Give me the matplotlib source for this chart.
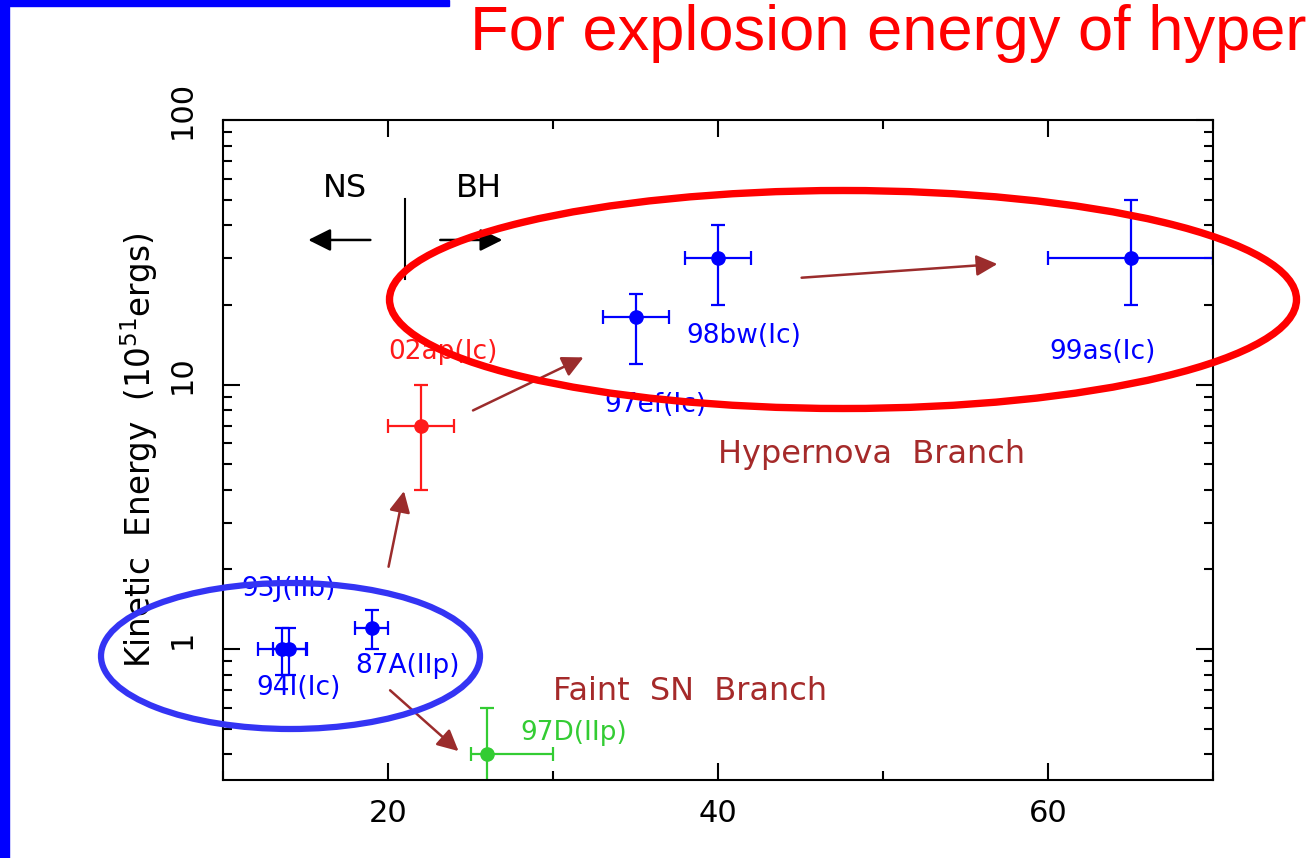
import matplotlib
matplotlib.use("Agg")
import matplotlib.pyplot as plt
import matplotlib.transforms as mtransforms
from matplotlib.patches import Ellipse, Rectangle
from matplotlib.ticker import FixedLocator, MultipleLocator, LogLocator, NullFormatter

# supernova sample: progenitor mass (Msun) vs kinetic energy (1e51 erg)
names = ['93J(IIb)', '94I(Ic)', '87A(IIp)', '97D(IIp)', '02ap(Ic)', '97ef(Ic)', '98bw(Ic)', '99as(Ic)']
mass = [13.6, 14.0, 19.0, 26.0, 22.0, 35.0, 40.0, 65.0]
mass_lo = [1.5, 1.0, 1.0, 1.0, 2.0, 2.0, 2.0, 5.0]
mass_hi = [1.5, 1.0, 1.0, 4.0, 2.0, 2.0, 2.0, 5.0]
energy = [1.0, 1.0, 1.2, 0.4, 7.0, 18.0, 30.0, 30.0]
energy_lo = [0.2, 0.2, 0.2, 0.2, 3.0, 6.0, 10.0, 10.0]
energy_hi = [0.2, 0.2, 0.2, 0.2, 3.0, 4.0, 10.0, 20.0]
colors = ['#0000ff', '#0000ff', '#0000ff', '#33cc33', '#ff1a1a', '#0000ff', '#0000ff', '#0000ff']

# where each name is written (left edge, vertical centre)
label_x = [11.1, 12.0, 18.0, 28.0, 20.0, 33.1, 38.1, 60.1]
label_y = [1.68, 0.71, 0.86, 0.48, 13.3, 8.4, 15.2, 13.3]

# evolutionary arrows between the branches
arrow_from = [(20.0, 2.0), (25.0, 7.9), (44.9, 25.3), (20.0, 0.71)]
arrow_to = [(21.0, 4.05), (32.0, 12.8), (57.1, 28.6), (24.4, 0.405)]

brown = '#a52a2a'

fig = plt.figure(figsize=(13.1, 8.58), dpi=100)
ax = fig.add_axes([223 / 1310, 1 - 780 / 858, 990 / 1310, 660 / 858])

for i in range(len(names)):
    ax.errorbar(mass[i], energy[i],
                xerr=[[mass_lo[i]], [mass_hi[i]]],
                yerr=[[energy_lo[i]], [energy_hi[i]]],
                fmt='o', color=colors[i], ms=9.5, elinewidth=1.6, capsize=5, capthick=1.6)
    ax.text(label_x[i], label_y[i], names[i], color=colors[i], fontsize=19,
            ha='left', va='center')

for p0, p1 in zip(arrow_from, arrow_to):
    ax.annotate('', xy=p1, xytext=p0,
                arrowprops=dict(arrowstyle='-|>', color='#9b2c2c', lw=1.8, mutation_scale=32))

# NS / BH boundary
ax.plot([21, 21], [25.1, 50.4], color='black', lw=1.5)
ax.annotate('', xy=(15.0, 35.2), xytext=(19.1, 35.2),
            arrowprops=dict(arrowstyle='-|>', color='black', lw=1.8, mutation_scale=34))
ax.annotate('', xy=(27.1, 35.2), xytext=(23.0, 35.2),
            arrowprops=dict(arrowstyle='-|>', color='black', lw=1.8, mutation_scale=34))
ax.text(17.4, 55, 'NS', fontsize=23, ha='center', va='center')
ax.text(25.5, 55, 'BH', fontsize=23, ha='center', va='center')

ax.text(40.0, 5.44, 'Hypernova  Branch', color=brown, fontsize=23, ha='left', va='center')
ax.text(30.0, 0.694, 'Faint  SN  Branch', color=brown, fontsize=23, ha='left', va='center')

ax.set_yscale('log')
ax.set_xlim(10, 70)
ax.set_ylim(0.32, 100)

ax.xaxis.set_major_locator(FixedLocator([20, 40, 60]))
ax.xaxis.set_minor_locator(MultipleLocator(10))
ax.yaxis.set_major_locator(FixedLocator([1, 10, 100]))
ax.yaxis.set_major_formatter(plt.FixedFormatter(['1', '10', '100']))
ax.yaxis.set_minor_locator(LogLocator(base=10, subs=range(2, 10)))
ax.yaxis.set_minor_formatter(NullFormatter())

ax.tick_params(which='both', direction='in', top=True, right=True, width=1.5, colors='black')
ax.tick_params(which='major', length=12, labelsize=22)
ax.tick_params(which='minor', length=6.5)
ax.tick_params(axis='x', pad=14)
ax.tick_params(axis='y', pad=19, labelrotation=90)
# nudge the vertical y labels a little upward
shift = mtransforms.ScaledTranslation(0, 10 / 100, fig.dpi_scale_trans)
for lab in ax.get_yticklabels():
    lab.set_va('center')
    lab.set_transform(lab.get_transform() + shift)
for s in ax.spines.values():
    s.set_linewidth(1.5)

ax.set_ylabel('Kinetic  Energy  (10$^{51}$ergs)', fontsize=23.5)
ax.yaxis.set_label_coords(-0.064, 0.5)

# highlight ellipses, drawn in figure inches
fig.add_artist(Ellipse((8.43, 5.585), 9.07, 2.18, fill=False, edgecolor='#ff0000',
                       lw=5.3, transform=fig.dpi_scale_trans, zorder=5))
fig.add_artist(Ellipse((2.905, 2.02), 3.79, 1.46, fill=False, edgecolor='#3434f4',
                       lw=4.5, transform=fig.dpi_scale_trans, zorder=5))

# slide frame
fig.add_artist(Rectangle((0, 0), 9 / 1310, 1, color='#0000ff', transform=fig.transFigure, zorder=6))
fig.add_artist(Rectangle((0, 1 - 6 / 858), 449 / 1310, 6 / 858, color='#0000ff',
                         transform=fig.transFigure, zorder=6))

fig.text(470 / 1310, 1 - 50 / 858, 'For explosion energy of hyper', color='#ff0000',
         fontsize=45.5, family='Liberation Sans', ha='left', va='baseline')

fig.savefig('out.png', dpi=100)
